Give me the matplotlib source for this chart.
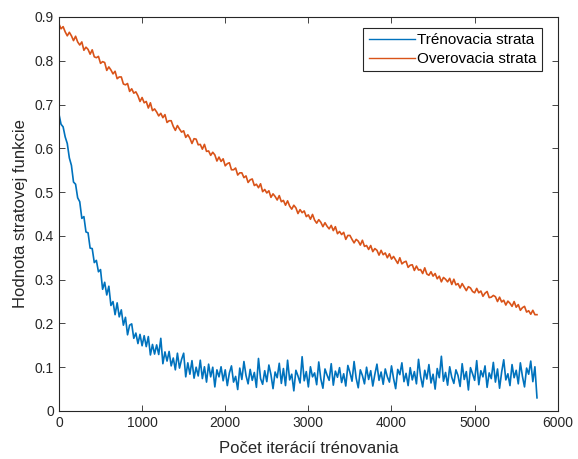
import matplotlib.pyplot as plt

plt.rcParams['font.family'] = ['Liberation Sans', 'DejaVu Sans']

# iterations, one sample every 25 steps (0 .. 5750)
iterations = list(range(0, 5751, 25))

# training loss (noise included)
train_loss = [
    0.678, 0.655, 0.649, 0.626, 0.611, 0.578, 0.561, 0.523, 0.518, 0.487,
    0.478, 0.440, 0.444, 0.409, 0.407, 0.372, 0.371, 0.339, 0.344, 0.318,
    0.323, 0.278, 0.294, 0.265, 0.285, 0.241, 0.250, 0.220, 0.247, 0.215,
    0.231, 0.196, 0.214, 0.174, 0.196, 0.199, 0.166, 0.178, 0.154, 0.175,
    0.149, 0.172, 0.147, 0.170, 0.128, 0.152, 0.130, 0.151, 0.129, 0.166,
    0.108, 0.135, 0.114, 0.136, 0.103, 0.121, 0.094, 0.132, 0.098, 0.118,
    0.132, 0.078, 0.110, 0.084, 0.115, 0.075, 0.100, 0.080, 0.116, 0.074,
    0.101, 0.066, 0.107, 0.078, 0.100, 0.055, 0.094, 0.078, 0.101, 0.069,
    0.094, 0.058, 0.087, 0.103, 0.066, 0.079, 0.049, 0.098, 0.072, 0.113,
    0.081, 0.062, 0.095, 0.070, 0.088, 0.054, 0.120, 0.074, 0.061, 0.092,
    0.067, 0.105, 0.083, 0.051, 0.089, 0.076, 0.109, 0.063, 0.097, 0.058,
    0.116, 0.071, 0.084, 0.046, 0.093, 0.080, 0.064, 0.124, 0.069, 0.090,
    0.055, 0.101, 0.078, 0.087, 0.060, 0.112, 0.073, 0.052, 0.096, 0.082,
    0.070, 0.108, 0.059, 0.091, 0.077, 0.099, 0.065, 0.085, 0.057, 0.104,
    0.088, 0.068, 0.113, 0.075, 0.053, 0.094, 0.081, 0.062, 0.100, 0.072,
    0.092, 0.057, 0.084, 0.107, 0.070, 0.089, 0.061, 0.096, 0.078, 0.066,
    0.103, 0.074, 0.051, 0.095, 0.083, 0.110, 0.067, 0.086, 0.058, 0.099,
    0.071, 0.090, 0.062, 0.118, 0.079, 0.055, 0.093, 0.073, 0.106, 0.064,
    0.084, 0.050, 0.097, 0.076, 0.125, 0.068, 0.088, 0.059, 0.101, 0.077,
    0.063, 0.094, 0.081, 0.056, 0.108, 0.072, 0.090, 0.048, 0.099, 0.085,
    0.070, 0.115, 0.060, 0.092, 0.078, 0.103, 0.054, 0.087, 0.074, 0.111,
    0.066, 0.096, 0.052, 0.089, 0.117, 0.071, 0.085, 0.058, 0.106, 0.076,
    0.093, 0.062, 0.110, 0.079, 0.055, 0.098, 0.084, 0.114, 0.067, 0.101,
    0.030,
]

# validation loss
val_loss = [
    0.884, 0.873, 0.878, 0.866, 0.857, 0.865, 0.857, 0.846, 0.856, 0.843,
    0.836, 0.843, 0.824, 0.831, 0.826, 0.815, 0.825, 0.809, 0.807, 0.810,
    0.794, 0.798, 0.796, 0.778, 0.786, 0.779, 0.770, 0.776, 0.759, 0.763,
    0.763, 0.747, 0.745, 0.748, 0.730, 0.736, 0.726, 0.729, 0.720, 0.707,
    0.716, 0.704, 0.707, 0.692, 0.704, 0.686, 0.690, 0.683, 0.674, 0.680,
    0.670, 0.677, 0.659, 0.663, 0.663, 0.650, 0.641, 0.652, 0.644, 0.637,
    0.640, 0.625, 0.631, 0.623, 0.611, 0.622, 0.621, 0.608, 0.609, 0.598,
    0.609, 0.593, 0.594, 0.584, 0.591, 0.585, 0.571, 0.580, 0.570, 0.576,
    0.560, 0.565, 0.567, 0.551, 0.551, 0.555, 0.539, 0.544, 0.544, 0.533,
    0.537, 0.522, 0.528, 0.530, 0.515, 0.518, 0.510, 0.519, 0.501, 0.506,
    0.498, 0.503, 0.488, 0.496, 0.490, 0.482, 0.492, 0.478, 0.481, 0.470,
    0.480, 0.468, 0.461, 0.470, 0.464, 0.451, 0.460, 0.453, 0.457, 0.444,
    0.448, 0.438, 0.449, 0.436, 0.429, 0.437, 0.431, 0.421, 0.430, 0.422,
    0.416, 0.424, 0.412, 0.421, 0.405, 0.410, 0.403, 0.408, 0.392, 0.401,
    0.401, 0.392, 0.384, 0.392, 0.388, 0.379, 0.390, 0.376, 0.378, 0.369,
    0.378, 0.364, 0.371, 0.367, 0.356, 0.367, 0.357, 0.361, 0.350, 0.359,
    0.347, 0.353, 0.345, 0.337, 0.350, 0.336, 0.340, 0.342, 0.328, 0.333,
    0.334, 0.321, 0.331, 0.322, 0.323, 0.314, 0.327, 0.313, 0.310, 0.318,
    0.308, 0.314, 0.302, 0.308, 0.295, 0.305, 0.301, 0.295, 0.303, 0.289,
    0.301, 0.288, 0.291, 0.281, 0.291, 0.283, 0.275, 0.284, 0.281, 0.273,
    0.270, 0.280, 0.270, 0.274, 0.262, 0.269, 0.273, 0.259, 0.260, 0.264,
    0.261, 0.250, 0.260, 0.249, 0.253, 0.242, 0.251, 0.246, 0.239, 0.250,
    0.237, 0.243, 0.230, 0.236, 0.239, 0.226, 0.229, 0.221, 0.230, 0.220,
    0.220,
]

x_ticks = [0, 1000, 2000, 3000, 4000, 5000, 6000]
y_ticks = [0, 0.1, 0.2, 0.3, 0.4, 0.5, 0.6, 0.7, 0.8, 0.9]
y_tick_labels = ['0', '0.1', '0.2', '0.3', '0.4', '0.5', '0.6', '0.7', '0.8', '0.9']

fig = plt.figure(figsize=(5.78, 4.59), dpi=100)
ax = fig.add_axes([0.102, 0.1046, 0.863, 0.8584])

ax.plot(iterations, train_loss, color='#0072BD', lw=1.2, label='Trénovacia strata')
ax.plot(iterations, val_loss, color='#D95319', lw=1.2, label='Overovacia strata')

ax.set_xlim(0, 6000)
ax.set_ylim(0, 0.9)
ax.set_xticks(x_ticks)
ax.set_yticks(y_ticks)
ax.set_yticklabels(y_tick_labels)

ax.tick_params(direction='in', top=True, right=True, length=4, width=0.6,
               colors='#262626', labelsize=10)
for s in ax.spines.values():
    s.set_color('#262626')
    s.set_linewidth(0.8)

ax.set_xlabel('Počet iterácií trénovania', fontsize=12, color='#262626', labelpad=8)
ax.set_ylabel('Hodnota stratovej funkcie', fontsize=12, color='#262626', labelpad=5)

leg = ax.legend(loc='upper right', bbox_to_anchor=(0.968, 0.972), borderaxespad=0,
                fontsize=11, fancybox=False, framealpha=1, edgecolor='#262626',
                handlelength=3.0, borderpad=0.35, labelspacing=0.3, handletextpad=0.15)
leg.get_frame().set_linewidth(0.8)
for line in leg.get_lines():
    line.set_linewidth(1.0)

fig.savefig('out.png', dpi=100)
